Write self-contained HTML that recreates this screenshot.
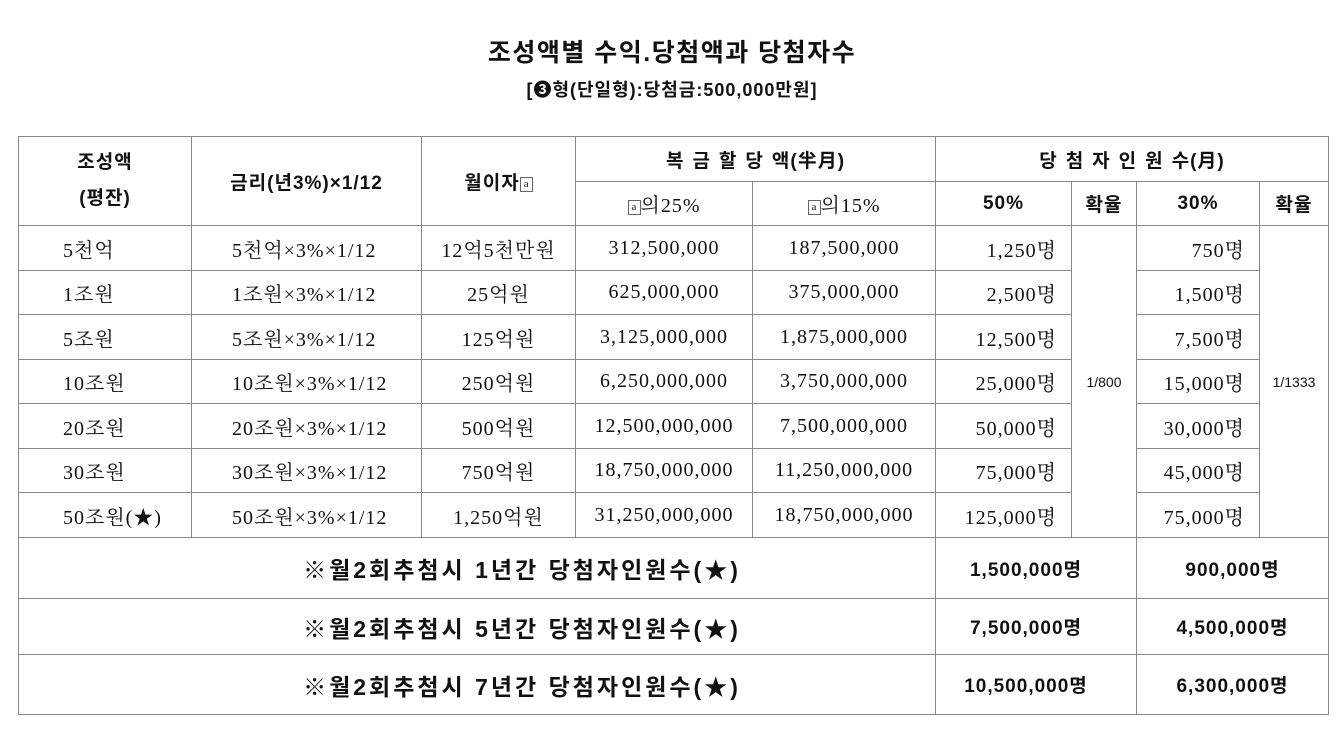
<!DOCTYPE html>
<html><head><meta charset="utf-8"><style>
body{margin:0;background:#fff;width:1344px;height:743px;position:relative;font-family:"Liberation Sans","Noto Sans CJK KR",sans-serif;color:#111}
.t1{position:absolute;top:33px;left:0;width:1344px;text-align:center;font-size:25px;font-weight:bold;letter-spacing:1.5px}
.t2{position:absolute;top:76px;left:0;width:1344px;text-align:center;font-size:18px;font-weight:bold;letter-spacing:1px}
table{position:absolute;left:18px;top:136px;border-collapse:collapse;table-layout:fixed}
td{border:1px solid #888;padding:0;text-align:center;font-size:17px;white-space:nowrap}
.h{font-weight:bold;font-size:19px;letter-spacing:1px}
.s{font-family:"Liberation Serif","Noto Serif CJK SC",serif;font-size:20px;letter-spacing:1px}
.r{text-align:right;padding-right:14px}
.l1{text-align:left;padding-left:44px}
.l2{text-align:left;padding-left:40px}
.big{font-weight:bold;font-size:23px;letter-spacing:3px;padding-left:90px}
.mid{font-weight:bold;font-size:19px;letter-spacing:1px}
.m1{padding-right:20px}
.sp{letter-spacing:9px}
.box{display:inline-block;border:1px solid #666;font-size:11px;line-height:13px;width:11px;height:13px;vertical-align:2px;font-weight:normal;font-family:"Liberation Serif",serif;letter-spacing:0}
</style></head><body>
<div class="t1">조성액별 수익.당첨액과 당첨자수</div>
<div class="t2">[❸형(단일형):당첨금:500,000만원]</div>
<table>
<colgroup><col style="width:173px"><col style="width:230px"><col style="width:154px"><col style="width:177px"><col style="width:183px"><col style="width:136px"><col style="width:65px"><col style="width:123px"><col style="width:69px"></colgroup>
<tr style="height:45px"><td class="h" rowspan="2" style="line-height:36px">조성액<br>(평잔)</td><td class="h" rowspan="2">금리(년3%)×1/12</td><td class="h" rowspan="2">월이자<span class="box">a</span></td><td class="h" colspan="2"><span class="sp">복금할당</span>액(半月)</td><td class="h" colspan="4"><span class="sp">당첨자인원</span>수(月)</td></tr>
<tr style="height:44px"><td class="s"><span class="box">a</span>의25%</td><td class="s"><span class="box">a</span>의15%</td><td class="h">50%</td><td class="h">확율</td><td class="h">30%</td><td class="h">확율</td></tr>
<tr style="height:45px"><td class="s l1">5천억</td><td class="s l2">5천억×3%×1/12</td><td class="s">12억5천만원</td><td class="s">312,500,000</td><td class="s">187,500,000</td><td class="s r">1,250명</td><td rowspan="7" style="font-size:14px">1/800</td><td class="s r">750명</td><td rowspan="7" style="font-size:14px">1/1333</td></tr>
<tr style="height:44px"><td class="s l1">1조원</td><td class="s l2">1조원×3%×1/12</td><td class="s">25억원</td><td class="s">625,000,000</td><td class="s">375,000,000</td><td class="s r">2,500명</td><td class="s r">1,500명</td></tr>
<tr style="height:45px"><td class="s l1">5조원</td><td class="s l2">5조원×3%×1/12</td><td class="s">125억원</td><td class="s">3,125,000,000</td><td class="s">1,875,000,000</td><td class="s r">12,500명</td><td class="s r">7,500명</td></tr>
<tr style="height:44px"><td class="s l1">10조원</td><td class="s l2">10조원×3%×1/12</td><td class="s">250억원</td><td class="s">6,250,000,000</td><td class="s">3,750,000,000</td><td class="s r">25,000명</td><td class="s r">15,000명</td></tr>
<tr style="height:45px"><td class="s l1">20조원</td><td class="s l2">20조원×3%×1/12</td><td class="s">500억원</td><td class="s">12,500,000,000</td><td class="s">7,500,000,000</td><td class="s r">50,000명</td><td class="s r">30,000명</td></tr>
<tr style="height:44px"><td class="s l1">30조원</td><td class="s l2">30조원×3%×1/12</td><td class="s">750억원</td><td class="s">18,750,000,000</td><td class="s">11,250,000,000</td><td class="s r">75,000명</td><td class="s r">45,000명</td></tr>
<tr style="height:45px"><td class="s l1">50조원(★)</td><td class="s l2">50조원×3%×1/12</td><td class="s">1,250억원</td><td class="s">31,250,000,000</td><td class="s">18,750,000,000</td><td class="s r">125,000명</td><td class="s r">75,000명</td></tr>
<tr style="height:61px"><td class="big" colspan="5">※월2회추첨시 1년간 당첨자인원수(★)</td><td class="mid m1" colspan="2">1,500,000명</td><td class="mid" colspan="2">900,000명</td></tr>
<tr style="height:56px"><td class="big" colspan="5">※월2회추첨시 5년간 당첨자인원수(★)</td><td class="mid m1" colspan="2">7,500,000명</td><td class="mid" colspan="2">4,500,000명</td></tr>
<tr style="height:60px"><td class="big" colspan="5">※월2회추첨시 7년간 당첨자인원수(★)</td><td class="mid m1" colspan="2">10,500,000명</td><td class="mid" colspan="2">6,300,000명</td></tr>
</table>
</body></html>
